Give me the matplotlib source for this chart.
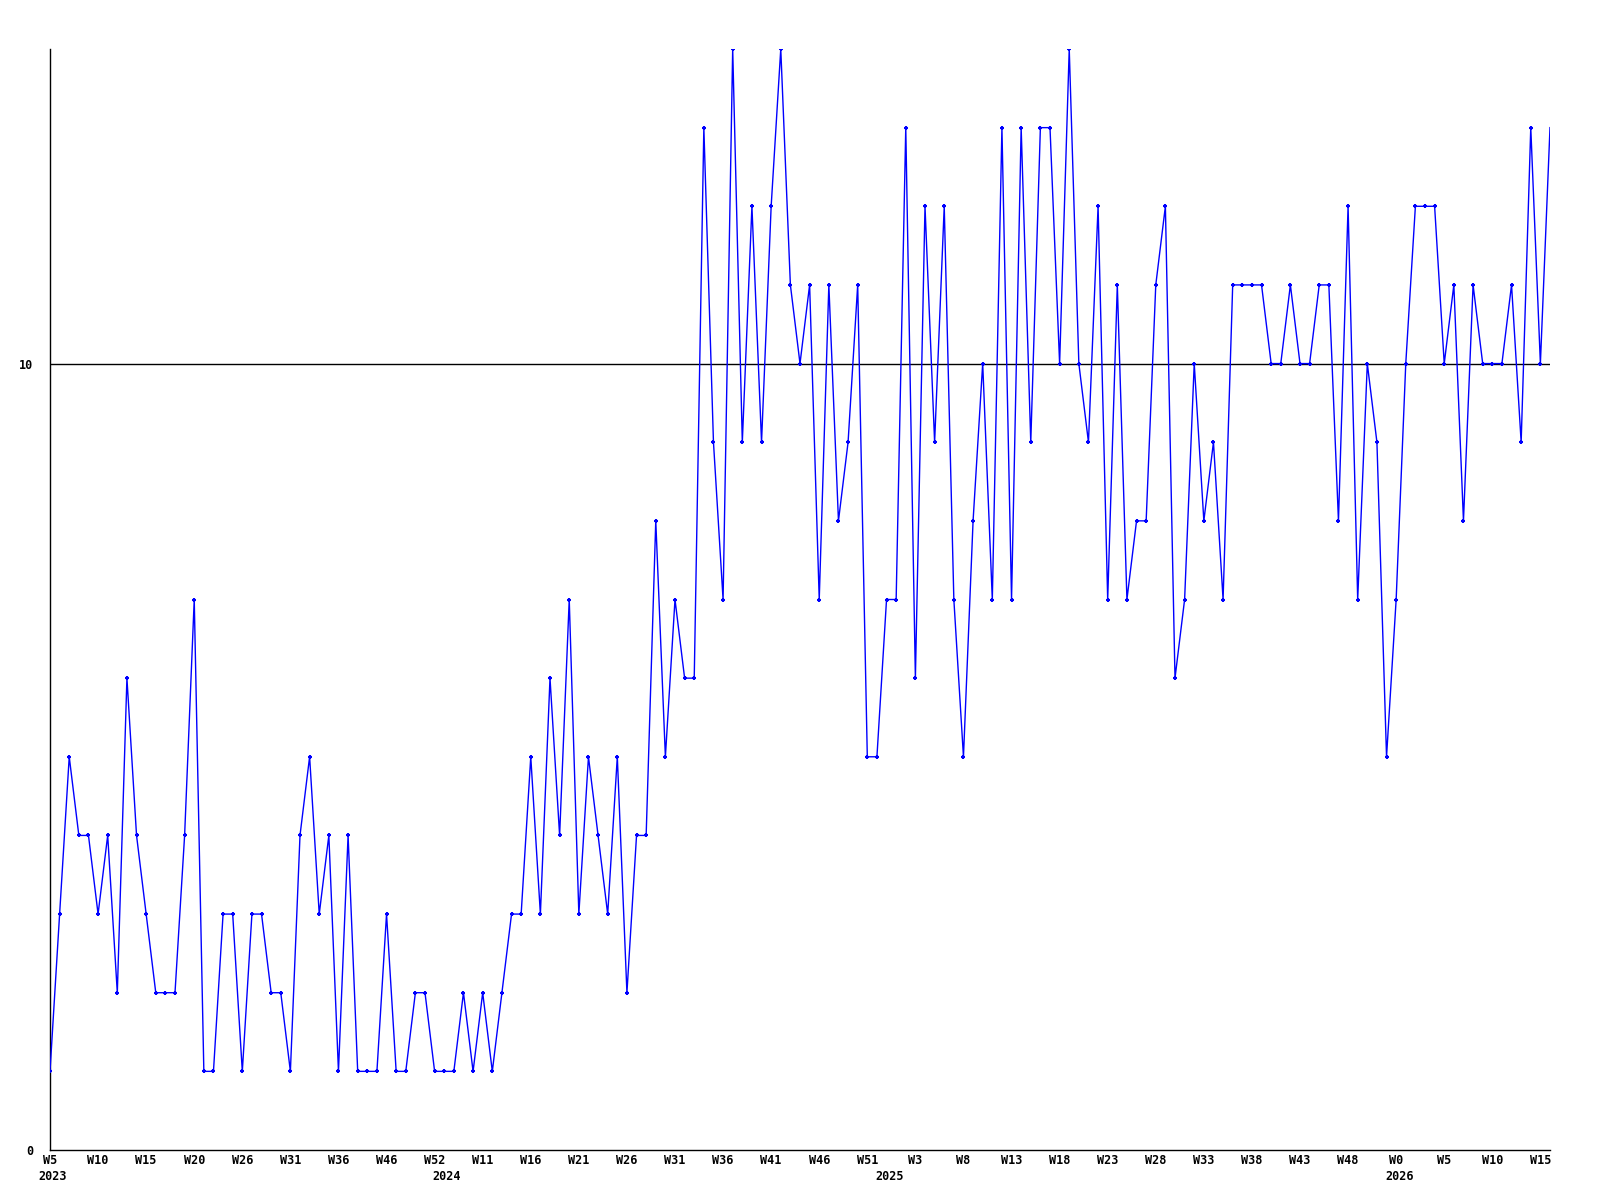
import matplotlib
matplotlib.use("Agg")
import matplotlib.pyplot as plt
import matplotlib.transforms as mtransforms

# weekly values
values = [
    1, 3, 5, 4, 4, 3, 4, 2, 6, 4,
    3, 2, 2, 2, 4, 7, 1, 1, 3, 3,
    1, 3, 3, 2, 2, 1, 4, 5, 3, 4,
    1, 4, 1, 1, 1, 3, 1, 1, 2, 2,
    1, 1, 1, 2, 1, 2, 1, 2, 3, 3,
    5, 3, 6, 4, 7, 3, 5, 4, 3, 5,
    2, 4, 4, 8, 5, 7, 6, 6, 13, 9,
    7, 14, 9, 12, 9, 12, 14, 11, 10, 11,
    7, 11, 8, 9, 11, 5, 5, 7, 7, 13,
    6, 12, 9, 12, 7, 5, 8, 10, 7, 13,
    7, 13, 9, 13, 13, 10, 14, 10, 9, 12,
    7, 11, 7, 8, 8, 11, 12, 6, 7, 10,
    8, 9, 7, 11, 11, 11, 11, 10, 10, 11,
    10, 10, 11, 11, 8, 12, 7, 10, 9, 5,
    7, 10, 12, 12, 12, 10, 11, 8, 11, 10,
    10, 10, 11, 9, 13, 10, 13,
]

# one label every 5 weeks
week_labels = [
    "W5", "W10", "W15", "W20", "W26", "W31", "W36", "W46", "W52", "W11",
    "W16", "W21", "W26", "W31", "W36", "W41", "W46", "W51", "W3", "W8",
    "W13", "W18", "W23", "W28", "W33", "W38", "W43", "W48", "W0", "W5",
    "W10", "W15",
]
year_labels = ["2023", "2024", "2025", "2026"]
year_pos = [0.3, 41.3, 87.3, 140.4]

y_ticks = [0, 10]

font = {"family": "DejaVu Sans Mono", "weight": "bold", "size": 8.5}

fig = plt.figure(figsize=(16, 12), dpi=100)
ax = fig.add_axes([50 / 1600, 1 - 1150 / 1200, 1500 / 1600, 1101 / 1200])

x = list(range(len(values)))
# the last week has no marker in the original
ax.plot(x, values, color="#0000ff", linewidth=1.0, marker="+",
        markersize=3.5, markeredgewidth=1.5,
        markevery=list(range(len(values) - 1)), zorder=3)
ax.axhline(10, color="black", linewidth=1.0, zorder=2)

ax.set_xlim(0, len(values) - 1)
ax.set_ylim(0, 14)

for side in ("top", "right"):
    ax.spines[side].set_visible(False)
for side in ("left", "bottom"):
    ax.spines[side].set_linewidth(1.0)
    ax.spines[side].set_color("black")

ax.set_xticks(range(0, 5 * len(week_labels), 5))
ax.set_xticklabels(week_labels, fontdict=font)
ax.set_yticks(y_ticks)
ax.set_yticklabels([str(t) for t in y_ticks], fontdict=font)
ax.tick_params(axis="x", length=0, pad=3)
ax.tick_params(axis="y", length=0, pad=12)

# second row: years
trans = mtransforms.blended_transform_factory(ax.transData, fig.transFigure)
for pos, lab in zip(year_pos, year_labels):
    ax.text(pos, 1 - 1177 / 1200, lab, transform=trans, ha="center",
            va="center", clip_on=False, **font)

fig.savefig("out.png", dpi=100)
